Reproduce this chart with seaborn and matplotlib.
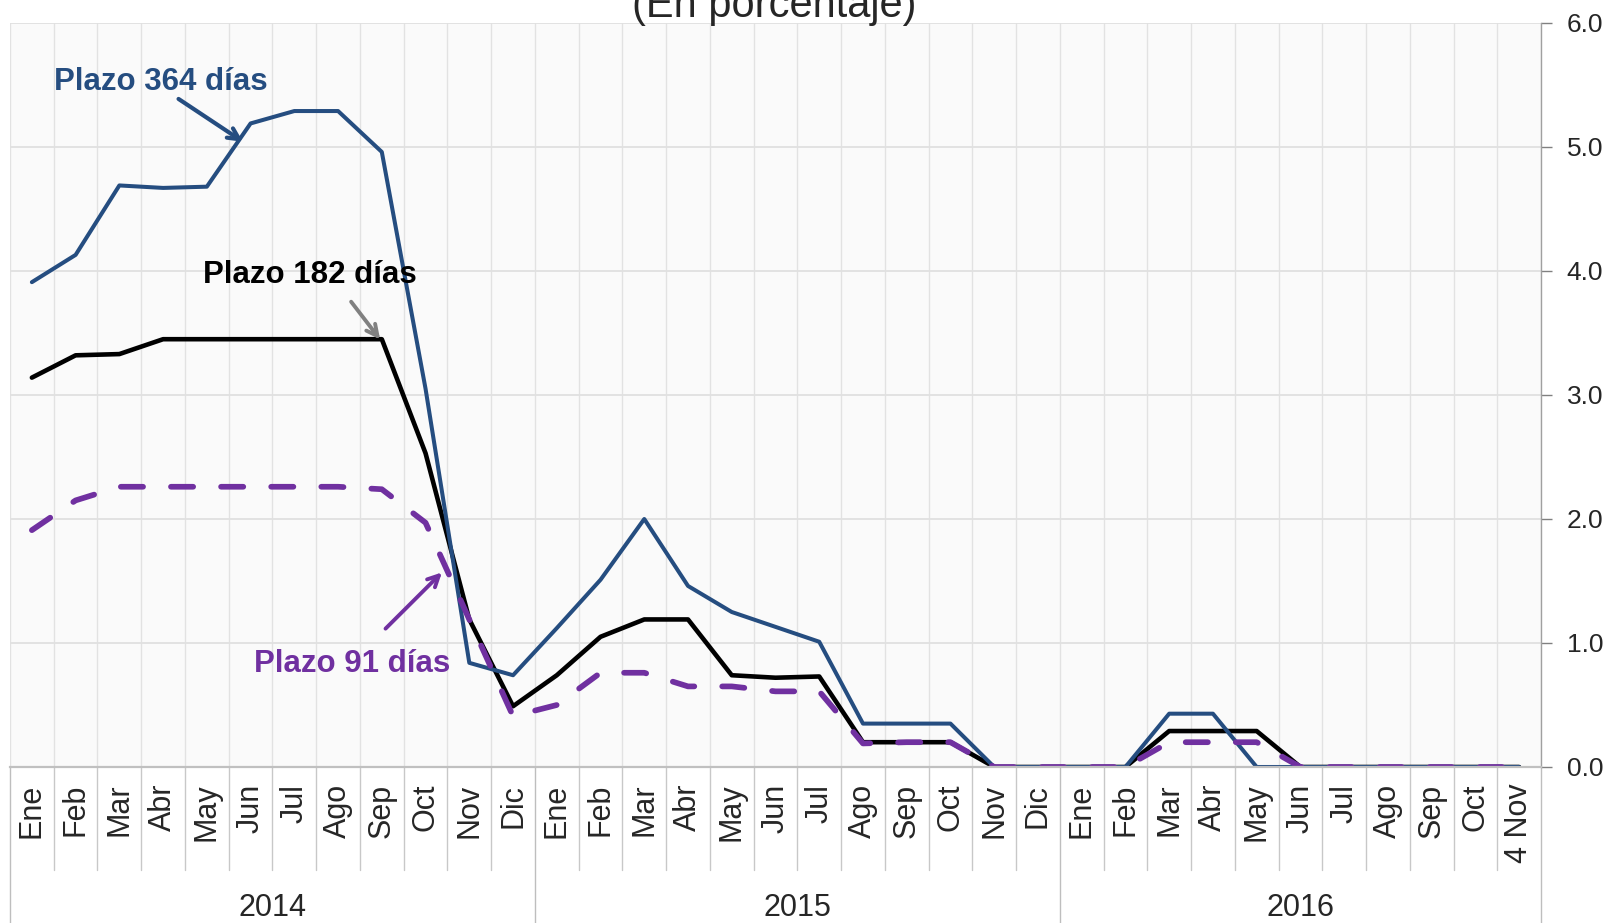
import numpy as np
import pandas as pd
import matplotlib.pyplot as plt
import seaborn as sns

# Tasas de rendimiento por plazo (en porcentaje)
meses = ['Ene', 'Feb', 'Mar', 'Abr', 'May', 'Jun', 'Jul', 'Ago', 'Sep', 'Oct', 'Nov', 'Dic']
etiquetas = meses + meses + meses[:10] + ['4 Nov']
anios = ['2014'] * 12 + ['2015'] * 12 + ['2016'] * 11

plazo_364 = [3.91, 4.13, 4.69, 4.67, 4.68, 5.19, 5.29, 5.29, 4.96, 3.05, 0.84, 0.74,
             1.12, 1.51, 2.00, 1.46, 1.25, 1.13, 1.01, 0.35, 0.35, 0.35, 0.0, 0.0,
             0.0, 0.0, 0.43, 0.43, 0.0, 0.0, 0.0, 0.0, 0.0, 0.0, 0.0]
plazo_182 = [3.14, 3.32, 3.33, 3.45, 3.45, 3.45, 3.45, 3.45, 3.45, 2.53, 1.19, 0.49,
             0.74, 1.05, 1.19, 1.19, 0.74, 0.72, 0.73, 0.20, 0.20, 0.20, 0.0, 0.0,
             0.0, 0.0, 0.29, 0.29, 0.29, 0.0, 0.0, 0.0, 0.0, 0.0, 0.0]
plazo_91 = [1.91, 2.15, 2.26, 2.26, 2.26, 2.26, 2.26, 2.26, 2.24, 1.97, 1.19, 0.41,
            0.50, 0.76, 0.76, 0.65, 0.65, 0.61, 0.61, 0.19, 0.20, 0.20, 0.0, 0.0,
            0.0, 0.0, 0.20, 0.20, 0.20, 0.0, 0.0, 0.0, 0.0, 0.0, 0.0]

df = pd.DataFrame({'pos': np.arange(len(etiquetas)), 'mes': etiquetas, 'anio': anios,
                   'p364': plazo_364, 'p182': plazo_182, 'p91': plazo_91})

sns.set_style('white')
plt.rcParams['font.family'] = ['Liberation Sans', 'DejaVu Sans']

azul = '#254D80'
morado = '#7030A0'

fig = plt.figure(figsize=(16.08, 9.23), dpi=100)
ax = fig.add_axes([10 / 1608, 1 - 767 / 923, 1531 / 1608, 744 / 923])
ax.set_facecolor('#FAFAFA')

# lineas
sns.lineplot(data=df, x='pos', y='p182', ax=ax, color='black', lw=3.3, sort=False)
sns.lineplot(data=df, x='pos', y='p364', ax=ax, color=azul, lw=2.9, sort=False)
sns.lineplot(data=df, x='pos', y='p91', ax=ax, color=morado, lw=4.1, sort=False,
             linestyle=(0, (3.9, 4.9)), dash_capstyle='round')

n = len(etiquetas)
ax.set_xlim(-0.5, n - 0.5)
ax.set_ylim(0, 6)
ax.set_xlabel('')
ax.set_ylabel('')

# eje y a la derecha
ax.yaxis.tick_right()
ax.set_yticks(np.arange(0, 7, 1))
ax.set_yticklabels(['%.1f' % v for v in np.arange(0, 7, 1)], fontsize=19)
ax.tick_params(axis='y', which='major', direction='out', length=8, width=1,
               color='#808080', pad=10.5, right=True, left=False)

# etiquetas de meses
ax.set_xticks(df['pos'])
ax.set_xticklabels(etiquetas, rotation=90, fontsize=22)
ax.tick_params(axis='x', which='major', length=0, pad=12)
ax.set_xticks(np.arange(-0.5, n, 1), minor=True)
ax.tick_params(axis='x', which='minor', length=0)

ax.grid(True, axis='y', which='major', color='#E0E0E0', lw=1.3)
ax.grid(True, axis='x', which='minor', color='#E2E2E2', lw=1.0)
ax.grid(False, axis='x', which='major')
ax.set_axisbelow(True)

for s in ['top', 'left']:
    ax.spines[s].set_visible(False)
ax.spines['right'].set_color('#A0A0A0')
ax.spines['right'].set_linewidth(1.0)
ax.spines['bottom'].set_color('#C0C0C0')
ax.spines['bottom'].set_linewidth(1.6)

# separadores de meses y anios bajo el eje
trans = ax.get_xaxis_transform()
cambios = [i for i in range(1, n) if anios[i] != anios[i - 1]]
for b in np.arange(-0.5, n, 1):
    fin = -0.21 if (b + 0.5) in cambios or b in (-0.5, n - 0.5) else -0.1385
    ax.plot([b, b], [0, fin], transform=trans, clip_on=False,
            color='#BEBEBE' if fin < -0.2 else '#C8C8C8', lw=1.0)

for a in ['2014', '2015', '2016']:
    idx = df.index[df['anio'] == a]
    centro = (idx.min() + idx.max()) / 2
    ax.text(centro, -0.189, a, transform=trans, ha='center', va='center', fontsize=22)

# titulo (recortado arriba)
fig.text(774.5 / 1608, 1 - 17 / 923, '(En porcentaje)', ha='center', va='baseline', fontsize=30)

# anotaciones
flecha = '->,head_length=0.8,head_width=0.4'
ax.text(0.50, 5.46, 'Plazo 364 días', color=azul, fontsize=22.5, fontweight='bold', va='baseline')
ax.annotate('', xy=(4.88, 5.03), xytext=(3.30, 5.40),
            arrowprops=dict(arrowstyle=flecha, color=azul, lw=3.0))

ax.text(3.91, 3.90, 'Plazo 182 días', color='black', fontsize=22.5, fontweight='bold', va='baseline')
ax.annotate('', xy=(8.0, 3.43), xytext=(7.26, 3.77),
            arrowprops=dict(arrowstyle=flecha, color='#808080', lw=2.8))

ax.text(5.08, 0.766, 'Plazo 91 días', color=morado, fontsize=22.5, fontweight='bold', va='baseline')
ax.annotate('', xy=(9.42, 1.585), xytext=(8.04, 1.10),
            arrowprops=dict(arrowstyle=flecha, color=morado, lw=2.8))

fig.savefig('out.png', dpi=100)
